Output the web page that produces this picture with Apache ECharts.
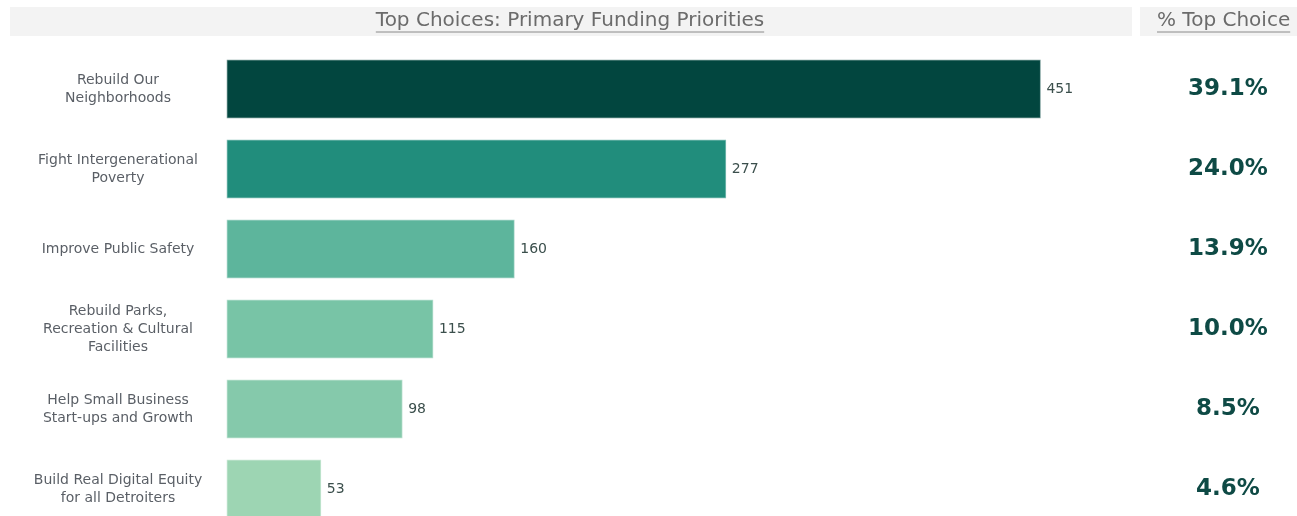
<!DOCTYPE html>
<html>
<head>
<meta charset="utf-8">
<script src="https://cdn.jsdelivr.net/npm/echarts@6/dist/echarts.min.js"></script>
<style>
html,body{margin:0;padding:0;background:#fff;}
#chart{width:1297px;height:516px;}
</style>
</head>
<body>
<div id="chart"></div>
<script>
var categories = [
  "Rebuild Our\nNeighborhoods",
  "Fight Intergenerational\nPoverty",
  "Improve Public Safety",
  "Rebuild Parks,\nRecreation & Cultural\nFacilities",
  "Help Small Business\nStart-ups and Growth",
  "Build Real Digital Equity\nfor all Detroiters"
];
var counts = [451, 277, 160, 115, 98, 53];
var pctLabels = ["39.1%", "24.0%", "13.9%", "10.0%", "8.5%", "4.6%"];
var barColors = ["#02463f", "#218d7c", "#5db59c", "#78c4a6", "#85c9ab", "#9dd5b3"];
var titleText = "Top Choices: Primary Funding Priorities";
var pctHeader = "% Top Choice";

var chart = echarts.init(document.getElementById('chart'), null, {renderer: 'canvas'});

var option = {
  backgroundColor: '#ffffff',
  animation: false,
  grid: {left: 226, top: 49, width: 904, height: 480, containLabel: false, outerBoundsMode: 'none'},
  xAxis: {
    type: 'value', min: 0, max: 500,
    show: false
  },
  yAxis: [
    {
      type: 'category', inverse: true, data: categories,
      axisLine: {show: false}, axisTick: {show: false}, splitLine: {show: false},
      axisLabel: {
        align: 'center', margin: 108,
        fontFamily: 'DejaVu Sans', fontSize: 14, color: '#5a5f66', lineHeight: 18
      }
    },
    {
      type: 'category', inverse: true, data: pctLabels, position: 'right',
      axisLine: {show: false}, axisTick: {show: false}, splitLine: {show: false},
      axisLabel: {
        align: 'center', margin: 98,
        fontFamily: 'DejaVu Sans', fontWeight: 'bold', fontSize: 23, color: '#0e4a45'
      }
    }
  ],
  series: [{
    type: 'bar',
    yAxisIndex: 0,
    data: counts.map(function (v, i) {
      return {value: v, itemStyle: {color: barColors[i]}};
    }),
    barWidth: 60,
    itemStyle: {borderColor: 'rgba(255,255,255,0.45)', borderWidth: 1.5},
    label: {
      show: true, position: 'right', distance: 5,
      fontFamily: 'DejaVu Sans', fontSize: 14, color: '#3b4f4c'
    }
  }],
  graphic: [
    {type: 'rect', shape: {x: 10, y: 7, width: 1122, height: 29}, style: {fill: '#f3f3f3'}, silent: true},
    {type: 'rect', shape: {x: 1140, y: 7, width: 157, height: 29}, style: {fill: '#f3f3f3'}, silent: true},
    {type: 'text', x: 570, y: 21, style: {text: titleText, fontFamily: 'DejaVu Sans', fontSize: 20, fill: '#6b6b6b', align: 'center', verticalAlign: 'middle'}},
    {type: 'text', x: 1157, y: 21, style: {text: pctHeader, fontFamily: 'DejaVu Sans', fontSize: 20, fill: '#6b6b6b', align: 'left', verticalAlign: 'middle'}}
  ]
};
chart.setOption(option);

function underline(text, cx, align) {
  var w = echarts.format.getTextRect ? echarts.format.getTextRect(text, '20px "DejaVu Sans"').width : text.length * 11;
  var x1 = align === 'center' ? cx - w / 2 : cx;
  return {type: 'line', shape: {x1: x1, y1: 32, x2: x1 + w, y2: 32}, style: {stroke: '#8a8a8a', lineWidth: 1}, silent: true};
}
var g = option.graphic.slice();
g.push(underline(titleText, 570, 'center'));
g.push(underline(pctHeader, 1157, 'left'));
chart.setOption({graphic: g});
</script>
</body>
</html>
